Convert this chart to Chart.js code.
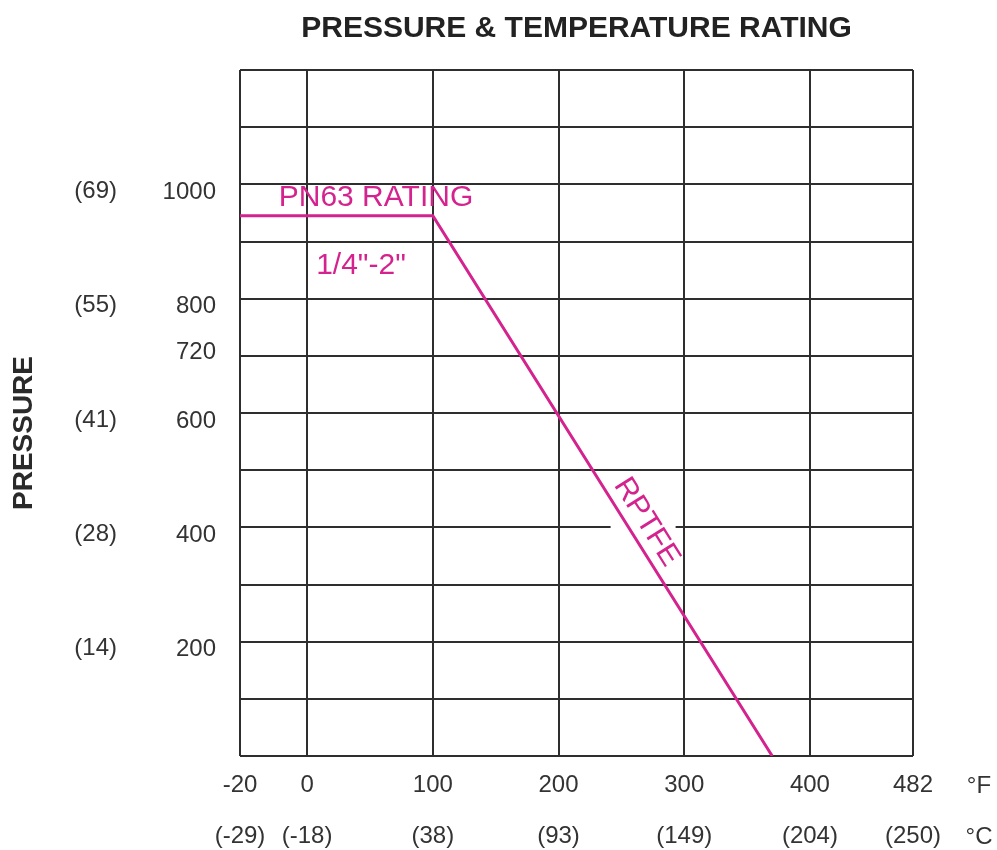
<!DOCTYPE html>
<html>
<head>
<meta charset="utf-8">
<script src="https://cdn.jsdelivr.net/npm/chart.js@4.4.0/dist/chart.umd.min.js"></script>
<style>
  html, body { margin: 0; padding: 0; background: #fff; }
  #wrap { width: 997px; height: 850px; position: relative; }
</style>
</head>
<body>
<div id="wrap"><canvas id="ratingChart"></canvas></div>
<script>
// rating curve (°F, psi)
const tempF = [-20, 100, 370];
const pressurePsi = [945, 945, 0];

// x axis ticks in °F and the °C captions under them
const tempTicksF = [-20, 0, 100, 200, 300, 400, 482];
const tempTicksC = ['(-29)', '(-18)', '(38)', '(93)', '(149)', '(204)', '(250)'];

// y axis ticks: psi, and bar in brackets
const psiTicks = [1000, 800, 720, 600, 400, 200];
const barTicks = [1000, 800, 600, 400, 200];
const barLabels = ['(69)', '(55)', '(41)', '(28)', '(14)'];

const PINK = '#d4238e';
const GRID = '#2e2e2e';
const TEXT = '#333333';
const FONT = "'Liberation Sans', Arial, sans-serif";

// the -20..0 part of the axis is drawn wider than the rest
const BELOW_ZERO = 2.67;
function warp(f) {
    return f < 0 ? f * BELOW_ZERO : f;
}

// extra labels: axis title, units, curve annotations
const extraText = {
    id: 'extraText',
    beforeDatasetsDraw(chart) {
        const { ctx, scales: { y } } = chart;
        const c = rptfeCenter(chart);
        const gy = y.getPixelForValue(400);
        // gap in the 400 line behind the RPTFE label
        ctx.save();
        ctx.fillStyle = '#fff';
        ctx.fillRect(c.x - 36, gy - 3, 65, 6);
        ctx.restore();
    },
    afterDraw(chart) {
        const { ctx, chartArea, scales: { x, y } } = chart;
        ctx.save();
        ctx.textBaseline = 'middle';
        ctx.textAlign = 'center';

        // PRESSURE, rotated
        ctx.fillStyle = '#2a2a2a';
        ctx.font = 'bold 28px ' + FONT;
        ctx.translate(24, (chartArea.top + chartArea.bottom) / 2 + 20);
        ctx.rotate(-Math.PI / 2);
        ctx.fillText('PRESSURE', 0, 0);
        ctx.setTransform(1, 0, 0, 1, 0, 0);

        // units at the end of the x axis
        ctx.fillStyle = TEXT;
        ctx.font = '24px ' + FONT;
        ctx.fillText('°F', chartArea.right + 66, chartArea.bottom + 30);
        ctx.fillText('°C', chartArea.right + 66, chartArea.bottom + 81);

        // curve annotations
        const flatY = y.getPixelForValue(pressurePsi[0]);
        const mid = (x.getPixelForValue(0) + x.getPixelForValue(100)) / 2;
        ctx.fillStyle = PINK;
        ctx.font = '30px ' + FONT;
        ctx.fillText('PN63 RATING', mid + 6, flatY - 18);
        ctx.fillText('1/4"-2"', mid - 9, flatY + 50);

        const c = rptfeCenter(chart);
        ctx.translate(c.x, c.y);
        ctx.rotate(c.angle);
        ctx.fillText('RPTFE', 0, 0);
        ctx.restore();
    }
};

function rptfeCenter(chart) {
    const { x, y } = chart.scales;
    const x1 = x.getPixelForValue(warp(tempF[1])), y1 = y.getPixelForValue(pressurePsi[1]);
    const x2 = x.getPixelForValue(warp(tempF[2])), y2 = y.getPixelForValue(pressurePsi[2]);
    const angle = Math.atan2(y2 - y1, x2 - x1);
    const t = 0.585, off = 18;
    return {
        x: x1 + t * (x2 - x1) + off * Math.sin(angle),
        y: y1 + t * (y2 - y1) - off * Math.cos(angle),
        angle: angle
    };
}

const ctx = document.getElementById('ratingChart').getContext('2d');
new Chart(ctx, {
    type: 'line',
    data: {
        datasets: [{
            data: tempF.map((f, i) => ({ x: warp(f), y: pressurePsi[i] })),
            borderColor: PINK,
            borderWidth: 3,
            pointRadius: 0,
            tension: 0,
            xAxisID: 'x',
            yAxisID: 'y'
        }]
    },
    options: {
        responsive: true,
        maintainAspectRatio: false,
        animation: false,
        layout: { padding: { left: 0, right: 84, top: 0, bottom: 0 } },
        plugins: {
            legend: { display: false },
            tooltip: { enabled: false },
            title: {
                display: true,
                text: 'PRESSURE & TEMPERATURE RATING',
                fullSize: false,
                color: '#222',
                font: { family: FONT, size: 30, weight: 'bold' },
                padding: { top: 11, bottom: 23 }
            }
        },
        scales: {
            x: {
                type: 'linear',
                min: warp(-20),
                max: 482,
                afterBuildTicks: s => { s.ticks = tempTicksF.map(v => ({ value: warp(v) })); },
                afterFit: s => { s.height = 94; },
                grid: { color: GRID, lineWidth: 2, drawTicks: false },
                border: { display: false },
                ticks: {
                    autoSkip: false,
                    maxRotation: 0,
                    padding: 4,
                    color: TEXT,
                    font: { family: FONT, size: 24, lineHeight: 2.125 },
                    callback: (v, i) => [String(tempTicksF[i]), tempTicksC[i]]
                }
            },
            y: {
                type: 'linear',
                position: 'left',
                weight: 0,
                min: 0,
                max: 1200,
                afterFit: s => { s.width = 0; },
                grid: { color: GRID, lineWidth: 2, drawTicks: false },
                border: { display: false },
                ticks: { display: false, stepSize: 100 }
            },
            yPsi: {
                type: 'linear',
                position: 'left',
                weight: 1,
                min: 0,
                max: 1200,
                afterBuildTicks: s => { s.ticks = psiTicks.map(v => ({ value: v })); },
                afterFit: s => { s.width = 80; },
                grid: { display: false, drawTicks: false },
                border: { display: false },
                ticks: {
                    padding: 24,
                    labelOffset: 8,
                    color: TEXT,
                    font: { family: FONT, size: 24 },
                    callback: v => String(v)
                }
            },
            yBar: {
                type: 'linear',
                position: 'left',
                weight: 2,
                min: 0,
                max: 1200,
                afterBuildTicks: s => { s.ticks = barTicks.map(v => ({ value: v })); },
                afterFit: s => { s.width = 160; },
                grid: { display: false, drawTicks: false },
                border: { display: false },
                ticks: {
                    padding: 43,
                    labelOffset: 7,
                    color: TEXT,
                    font: { family: FONT, size: 24 },
                    callback: (v, i) => barLabels[i]
                }
            }
        }
    },
    plugins: [extraText]
});
</script>
</body>
</html>
